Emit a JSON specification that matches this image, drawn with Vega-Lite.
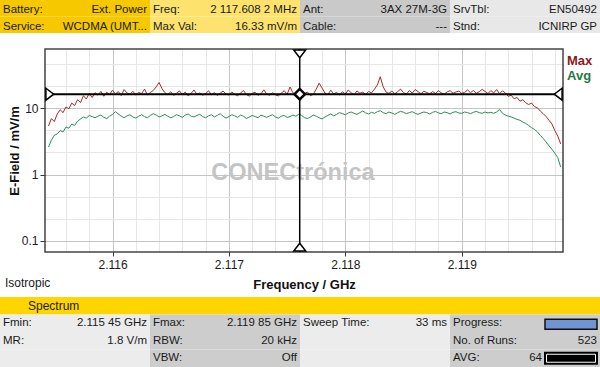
{
"$schema":"https://vega.github.io/schema/vega-lite/v6.json",
"background":"white","padding":0,"spacing":0,
"resolve":{"scale":{"color":"independent"},"legend":{"color":"independent"}},
"config":{"view":{"stroke":null},"font":"Liberation Sans"},
"datasets":{
"header":[
{"c":"c1","r":"r1","label":"Battery:","value":"Ext. Power"},
{"c":"c1","r":"r2","label":"Service:","value":"WCDMA (UMT..."},
{"c":"c2","r":"r1","label":"Freq:","value":"2 117.608 2 MHz"},
{"c":"c2","r":"r2","label":"Max Val:","value":"16.33 mV/m"},
{"c":"c3","r":"r1","label":"Ant:","value":"3AX 27M-3G"},
{"c":"c3","r":"r2","label":"Cable:","value":"---"},
{"c":"c4","r":"r1","label":"SrvTbl:","value":"EN50492"},
{"c":"c4","r":"r2","label":"Stnd:","value":"ICNIRP GP"}],
"footer":[
{"c":"c1","r":"spec","label":"Spectrum","value":""},
{"c":"c2","r":"spec","label":"","value":""},
{"c":"c3","r":"spec","label":"","value":""},
{"c":"c4","r":"spec","label":"","value":""},
{"c":"c1","r":"r1","label":"Fmin:","value":"2.115 45 GHz"},
{"c":"c2","r":"r1","label":"Fmax:","value":"2.119 85 GHz"},
{"c":"c3","r":"r1","label":"Sweep Time:","value":"33 ms"},
{"c":"c4","r":"r1","label":"Progress:","value":""},
{"c":"c1","r":"r2","label":"MR:","value":"1.8 V/m"},
{"c":"c2","r":"r2","label":"RBW:","value":"20 kHz"},
{"c":"c3","r":"r2","label":"","value":""},
{"c":"c4","r":"r2","label":"No. of Runs:","value":"523"},
{"c":"c1","r":"r3","label":"","value":""},
{"c":"c2","r":"r3","label":"VBW:","value":"Off"},
{"c":"c3","r":"r3","label":"","value":""},
{"c":"c4","r":"r3","label":"AVG:","value":""}],
"widgets":[{"kind":"progress","c":"c4","r":"r1","n":""},{"kind":"avg","c":"c4","r":"r3","n":"64"}],
"marker":[{"f":2.1176082,"v":16.33}],
"ends":[{"kind":"top","f":2.1176082,"v":78.7},{"kind":"bottom","f":2.1176082,"v":0.0675},{"kind":"left","f":2.11542,"v":16.33},{"kind":"right","f":2.11987,"v":16.33}],
"trace":[
{"f":2.11545,"max":5.4,"avg":2.6},{"f":2.115475,"max":7.0,"avg":3.3},{"f":2.1155,"max":6.3,"avg":3.9},{"f":2.115525,"max":8.2,"avg":4.1},
{"f":2.11555,"max":9.5,"avg":4.6},{"f":2.115575,"max":8.6,"avg":4.4},{"f":2.1156,"max":10.5,"avg":5.2},{"f":2.115625,"max":9.8,"avg":5.0},
{"f":2.11565,"max":12.0,"avg":5.8},{"f":2.115675,"max":11.0,"avg":5.5},{"f":2.1157,"max":13.5,"avg":6.4},{"f":2.115725,"max":12.2,"avg":6.9},
{"f":2.11575,"max":15.5,"avg":7.4},{"f":2.115775,"max":13.8,"avg":7.1},{"f":2.1158,"max":16.8,"avg":7.8},{"f":2.115825,"max":14.5,"avg":7.5},
{"f":2.11585,"max":17.2,"avg":7.2},{"f":2.115875,"max":15.8,"avg":7.6},{"f":2.1159,"max":18.0,"avg":7.9},{"f":2.115925,"max":15.2,"avg":7.3},
{"f":2.11595,"max":17.5,"avg":7.0},{"f":2.115975,"max":16.1,"avg":7.6},{"f":2.116,"max":18.8,"avg":8.1},{"f":2.116025,"max":16.4,"avg":8.9},
{"f":2.11605,"max":17.9,"avg":8.2},{"f":2.116075,"max":15.6,"avg":7.6},{"f":2.1161,"max":19.2,"avg":7.2},{"f":2.116125,"max":17.0,"avg":7.7},
{"f":2.11615,"max":16.2,"avg":8.0},{"f":2.116175,"max":18.1,"avg":7.4},{"f":2.1162,"max":15.9,"avg":7.1},{"f":2.116225,"max":17.4,"avg":7.6},
{"f":2.11625,"max":16.6,"avg":8.0},{"f":2.116275,"max":19.5,"avg":7.5},{"f":2.1163,"max":16.0,"avg":7.2},{"f":2.116325,"max":17.3,"avg":7.8},
{"f":2.11635,"max":18.6,"avg":8.3},{"f":2.116375,"max":21.0,"avg":7.9},{"f":2.1164,"max":24.6,"avg":7.4},{"f":2.116425,"max":19.8,"avg":7.7},
{"f":2.11645,"max":17.2,"avg":8.1},{"f":2.116475,"max":16.1,"avg":7.6},{"f":2.1165,"max":17.8,"avg":7.2},{"f":2.116525,"max":15.7,"avg":7.5},
{"f":2.11655,"max":16.9,"avg":8.0},{"f":2.116575,"max":18.3,"avg":7.7},{"f":2.1166,"max":16.2,"avg":7.3},{"f":2.116625,"max":17.6,"avg":7.9},
{"f":2.11665,"max":15.4,"avg":8.2},{"f":2.116675,"max":16.8,"avg":7.6},{"f":2.1167,"max":18.9,"avg":7.4},{"f":2.116725,"max":16.3,"avg":7.8},
{"f":2.11675,"max":17.1,"avg":8.1},{"f":2.116775,"max":15.8,"avg":7.5},{"f":2.1168,"max":16.7,"avg":7.2},{"f":2.116825,"max":18.4,"avg":7.7},
{"f":2.11685,"max":16.0,"avg":8.0},{"f":2.116875,"max":17.3,"avg":7.4},{"f":2.1169,"max":15.6,"avg":7.8},{"f":2.116925,"max":16.9,"avg":8.3},
{"f":2.11695,"max":18.2,"avg":7.6},{"f":2.116975,"max":16.4,"avg":7.1},{"f":2.117,"max":15.9,"avg":7.5},{"f":2.117025,"max":17.7,"avg":8.0},
{"f":2.11705,"max":16.2,"avg":7.7},{"f":2.117075,"max":15.5,"avg":7.3},{"f":2.1171,"max":17.0,"avg":7.9},{"f":2.117125,"max":18.6,"avg":7.6},
{"f":2.11715,"max":16.1,"avg":7.0},{"f":2.117175,"max":15.3,"avg":7.4},{"f":2.1172,"max":16.8,"avg":7.8},{"f":2.117225,"max":17.5,"avg":7.5},
{"f":2.11725,"max":15.7,"avg":7.2},{"f":2.117275,"max":16.6,"avg":7.9},{"f":2.1173,"max":19.0,"avg":7.6},{"f":2.117325,"max":16.3,"avg":7.3},
{"f":2.11735,"max":15.8,"avg":7.7},{"f":2.117375,"max":17.2,"avg":8.0},{"f":2.1174,"max":16.0,"avg":7.4},{"f":2.117425,"max":15.4,"avg":7.1},
{"f":2.11745,"max":16.9,"avg":7.6},{"f":2.117475,"max":18.5,"avg":7.8},{"f":2.1175,"max":16.2,"avg":7.3},{"f":2.117525,"max":21.0,"avg":7.5},
{"f":2.11755,"max":17.1,"avg":7.9},{"f":2.117575,"max":15.9,"avg":7.6},{"f":2.1176,"max":16.4,"avg":8.1},{"f":2.117625,"max":15.2,"avg":7.8},
{"f":2.11765,"max":16.8,"avg":7.2},{"f":2.117675,"max":17.6,"avg":7.0},{"f":2.1177,"max":15.5,"avg":7.4},{"f":2.117725,"max":16.3,"avg":7.9},
{"f":2.11775,"max":19.5,"avg":7.6},{"f":2.117775,"max":24.0,"avg":7.2},{"f":2.1178,"max":20.3,"avg":6.9},{"f":2.117825,"max":17.0,"avg":7.4},
{"f":2.11785,"max":16.1,"avg":7.8},{"f":2.117875,"max":18.8,"avg":8.2},{"f":2.1179,"max":16.5,"avg":7.7},{"f":2.117925,"max":17.4,"avg":8.1},
{"f":2.11795,"max":15.9,"avg":8.6},{"f":2.117975,"max":17.8,"avg":8.3},{"f":2.118,"max":16.4,"avg":8.0},{"f":2.118025,"max":18.9,"avg":8.5},
{"f":2.11805,"max":17.2,"avg":8.8},{"f":2.118075,"max":16.0,"avg":8.4},{"f":2.1181,"max":18.3,"avg":8.1},{"f":2.118125,"max":16.9,"avg":8.6},
{"f":2.11815,"max":17.5,"avg":9.1},{"f":2.118175,"max":16.2,"avg":8.5},{"f":2.1182,"max":18.0,"avg":8.2},{"f":2.118225,"max":17.1,"avg":8.7},
{"f":2.11825,"max":19.4,"avg":8.4},{"f":2.118275,"max":22.5,"avg":8.9},{"f":2.1183,"max":30.0,"avg":9.2},{"f":2.118325,"max":21.2,"avg":8.6},
{"f":2.11835,"max":17.6,"avg":8.3},{"f":2.118375,"max":16.8,"avg":8.8},{"f":2.1184,"max":18.2,"avg":8.5},{"f":2.118425,"max":16.5,"avg":8.1},
{"f":2.11845,"max":17.9,"avg":8.6},{"f":2.118475,"max":19.5,"avg":9.0},{"f":2.1185,"max":17.2,"avg":8.7},{"f":2.118525,"max":16.4,"avg":8.3},
{"f":2.11855,"max":18.6,"avg":8.6},{"f":2.118575,"max":17.0,"avg":8.9},{"f":2.1186,"max":19.2,"avg":8.4},{"f":2.118625,"max":17.8,"avg":8.1},
{"f":2.11865,"max":16.6,"avg":8.5},{"f":2.118675,"max":18.1,"avg":8.8},{"f":2.1187,"max":17.3,"avg":8.6},{"f":2.118725,"max":16.5,"avg":8.2},
{"f":2.11875,"max":17.9,"avg":8.7},{"f":2.118775,"max":16.8,"avg":9.0},{"f":2.1188,"max":18.4,"avg":8.5},{"f":2.118825,"max":17.1,"avg":8.3},
{"f":2.11885,"max":16.3,"avg":8.8},{"f":2.118875,"max":17.7,"avg":8.6},{"f":2.1189,"max":18.5,"avg":8.2},{"f":2.118925,"max":16.9,"avg":8.7},
{"f":2.11895,"max":17.6,"avg":8.9},{"f":2.118975,"max":18.3,"avg":8.5},{"f":2.119,"max":16.8,"avg":8.4},{"f":2.119025,"max":17.4,"avg":8.8},
{"f":2.11905,"max":19.0,"avg":8.6},{"f":2.119075,"max":17.2,"avg":8.3},{"f":2.1191,"max":18.6,"avg":8.7},{"f":2.119125,"max":16.9,"avg":9.0},
{"f":2.11915,"max":17.8,"avg":8.6},{"f":2.119175,"max":19.3,"avg":8.4},{"f":2.1192,"max":18.0,"avg":8.8},{"f":2.119225,"max":16.7,"avg":8.5},
{"f":2.11925,"max":18.5,"avg":8.7},{"f":2.119275,"max":17.1,"avg":8.4},{"f":2.1193,"max":19.2,"avg":8.8},{"f":2.119325,"max":16.6,"avg":9.6},
{"f":2.11935,"max":18.4,"avg":8.4},{"f":2.119375,"max":17.0,"avg":7.9},{"f":2.1194,"max":15.2,"avg":7.6},{"f":2.119425,"max":15.8,"avg":7.4},
{"f":2.11945,"max":13.9,"avg":7.1},{"f":2.119475,"max":14.6,"avg":6.8},{"f":2.1195,"max":12.8,"avg":6.6},{"f":2.119525,"max":13.5,"avg":6.2},
{"f":2.11955,"max":12.1,"avg":5.9},{"f":2.119575,"max":11.4,"avg":5.5},{"f":2.1196,"max":12.0,"avg":5.1},{"f":2.119625,"max":10.6,"avg":4.8},
{"f":2.11965,"max":10.2,"avg":4.4},{"f":2.119675,"max":9.1,"avg":3.9},{"f":2.1197,"max":8.3,"avg":3.5},{"f":2.119725,"max":7.5,"avg":3.1},
{"f":2.11975,"max":6.6,"avg":2.7},{"f":2.119775,"max":5.8,"avg":2.4},{"f":2.1198,"max":4.6,"avg":2.1},{"f":2.119825,"max":3.8,"avg":1.8},
{"f":2.11985,"max":2.9,"avg":1.3}]
},
"vconcat":[
{
"width":600,"height":46,
"data":{"name":"header"},
"layer":[
{"mark":{"type":"rect"},
 "encoding":{
  "x":{"field":"c","type":"nominal","axis":null,"scale":{"type":"band","domain":["c1","c2","c3","c4"],"paddingInner":0,"paddingOuter":0}},
  "y":{"field":"r","type":"nominal","axis":null,"scale":{"type":"band","domain":["r1","r2"],"paddingInner":0,"paddingOuter":0.394,"align":0}},
  "color":{"field":"c","type":"nominal","legend":null,"scale":{"domain":["c1","c2","c3","c4"],"range":["#F5C800","#FDE36E","#C9C9C9","#E8E8E8"]}}}},
{"mark":{"type":"text","align":"left","baseline":"middle","dx":3,"dy":2,"fontSize":11.5,"color":"#1a1a1a"},
 "encoding":{
  "x":{"field":"c","type":"nominal","bandPosition":0,"axis":null,"scale":{"type":"band","domain":["c1","c2","c3","c4"],"paddingInner":0,"paddingOuter":0}},
  "y":{"field":"r","type":"nominal","axis":null,"scale":{"type":"band","domain":["r1","r2"],"paddingInner":0,"paddingOuter":0.394,"align":0}},
  "text":{"field":"label"}}},
{"mark":{"type":"text","align":"right","baseline":"middle","dx":-3,"dy":2,"fontSize":11.5,"color":"#1a1a1a"},
 "encoding":{
  "x":{"field":"c","type":"nominal","bandPosition":1,"axis":null,"scale":{"type":"band","domain":["c1","c2","c3","c4"],"paddingInner":0,"paddingOuter":0}},
  "y":{"field":"r","type":"nominal","axis":null,"scale":{"type":"band","domain":["r1","r2"],"paddingInner":0,"paddingOuter":0.394,"align":0}},
  "text":{"field":"value"}}}
]
},
{
"width":563,"height":203,
"resolve":{"axis":{"x":"independent"}},
"title":{"text":"Isotropic","orient":"bottom","anchor":"start","frame":"bounds","offset":-13,"dx":5,"fontSize":12,"fontWeight":"normal","color":"#1a1a1a"},
"layer":[
{"data":{"name":"trace"},
 "mark":{"type":"line","strokeWidth":1,"clip":true},
 "encoding":{
  "x":{"field":"f","type":"quantitative","scale":{"domain":[2.11542,2.11987],"range":[45,563],"nice":false,"zero":false},
   "axis":{"orient":"bottom","grid":true,"values":[2.116,2.117,2.118,2.119],"format":".3f",
    "gridColor":"#c4c4c4","tickSize":4,"tickColor":"#333333","labelPadding":3,"labelFontSize":12,"labelColor":"#1a1a1a","labelOverlap":false,"labelFlush":false,
    "domain":false,"minExtent":22,"maxExtent":22,
    "title":"Frequency / GHz","titleFontSize":13,"titleFontWeight":"bold","titlePadding":4,"titleColor":"#111111"}},
  "y":{"field":"max","type":"quantitative","scale":{"type":"log","domain":[0.0675,78.7],"nice":false},
   "axis":{"orient":"left","grid":true,"offset":-45,
    "values":[0.1,0.2154,0.4642,1,2.154,4.642,10,21.54,46.42],
    "labelExpr":"datum.value==0.1 ? '0.1' : datum.value==1 ? '1' : datum.value==10 ? '10' : ''",
    "gridColor":{"condition":{"test":"datum.value==0.1||datum.value==1||datum.value==10","value":"#c4c4c4"},"value":"#e6e6e6"},
    "tickOpacity":{"condition":{"test":"datum.value==0.1||datum.value==1||datum.value==10","value":1},"value":0},
    "tickSize":5,"tickColor":"#333333","labelPadding":2,"labelFontSize":12,"labelColor":"#1a1a1a","labelOverlap":"greedy","labelFlush":false,
    "domain":false,"minExtent":45,"maxExtent":45,
    "title":"E-Field / mV/m","titleFontSize":13,"titleFontWeight":"bold","titleColor":"#111111",
    "titleX":-24,"titleY":101.5,"titleAngle":-90,"titleBaseline":"bottom","titleAlign":"center"}},
  "color":{"datum":"Max","type":"nominal","scale":{"domain":["Max","Avg"],"range":["#a52a2a","#2e8b57"]},
   "legend":{"title":null,"orient":"right","offset":-14,"padding":5,"symbolSize":1,"symbolStrokeWidth":0,"symbolOpacity":0,"labelOffset":0,
    "labelFontSize":13,"labelFontWeight":"bold","rowPadding":1,"labelLimit":60,
    "encode":{"labels":{"update":{"fill":{"signal":"datum.value === 'Max' ? '#8b1a1a' : '#1f7a45'"}}}}}}}},
{"data":{"name":"trace"},
 "mark":{"type":"line","strokeWidth":1,"clip":true},
 "encoding":{
  "x":{"field":"f","type":"quantitative","scale":{"domain":[2.11542,2.11987],"range":[45,563],"nice":false,"zero":false},
   "axis":{"orient":"bottom","grid":true,"gridColor":"#e6e6e6","labels":false,"ticks":false,"domain":false,"title":null,"minExtent":0,"maxExtent":0,
    "values":[2.1156,2.1158,2.1162,2.1164,2.1166,2.1168,2.1172,2.1174,2.1176,2.1178,2.1182,2.1184,2.1186,2.1188,2.1192,2.1194,2.1196,2.1198]}},
  "y":{"field":"avg","type":"quantitative","scale":{"type":"log","domain":[0.0675,78.7],"nice":false}},
  "color":{"datum":"Avg","type":"nominal","scale":{"domain":["Max","Avg"],"range":["#a52a2a","#2e8b57"]}}}},
{"data":{"values":[{}]},
 "mark":{"type":"text","text":"CONECtrónica","fontSize":23.5,"fontWeight":"bold","color":"#c4c4c4","align":"center","baseline":"middle"},
 "encoding":{
  "x":{"datum":2.11755,"type":"quantitative","scale":{"domain":[2.11542,2.11987],"range":[45,563],"nice":false,"zero":false},"axis":null},
  "y":{"datum":1.05,"type":"quantitative","scale":{"type":"log","domain":[0.0675,78.7],"nice":false}}}},
{"data":{"values":[{}]},
 "mark":{"type":"rect","fillOpacity":0,"stroke":"#444444","strokeWidth":1.5},
 "encoding":{
  "x":{"datum":2.11542,"type":"quantitative","scale":{"domain":[2.11542,2.11987],"range":[45,563],"nice":false,"zero":false},"axis":null},
  "x2":{"datum":2.11987},
  "y":{"datum":78.7,"type":"quantitative","scale":{"type":"log","domain":[0.0675,78.7],"nice":false}},
  "y2":{"datum":0.0675}}},
{"data":{"name":"marker"},
 "mark":{"type":"rule","color":"black","strokeWidth":1.5},
 "encoding":{"x":{"field":"f","type":"quantitative","scale":{"domain":[2.11542,2.11987],"range":[45,563],"nice":false,"zero":false},"axis":null}}},
{"data":{"name":"marker"},
 "mark":{"type":"rule","color":"black","strokeWidth":2},
 "encoding":{
  "x":{"datum":2.11542,"type":"quantitative","scale":{"domain":[2.11542,2.11987],"range":[45,563],"nice":false,"zero":false},"axis":null},
  "x2":{"datum":2.11987},
  "y":{"field":"v","type":"quantitative","scale":{"type":"log","domain":[0.0675,78.7],"nice":false}}}},
{"data":{"name":"ends"},
 "mark":{"type":"point","filled":true,"fill":"white","stroke":"black","strokeWidth":1.5,"size":144,"opacity":1},
 "encoding":{
  "x":{"field":"f","type":"quantitative","scale":{"domain":[2.11542,2.11987],"range":[45,563],"nice":false,"zero":false},"axis":null},
  "y":{"field":"v","type":"quantitative","scale":{"type":"log","domain":[0.0675,78.7],"nice":false}},
  "shape":{"field":"kind","type":"nominal","legend":null,"scale":{"domain":["top","bottom","left","right"],
   "range":["M-1,0.15L1,0.15L0,1.45Z","M-1,-0.15L1,-0.15L0,-1.45Z","M0.15,-1L0.15,1L1.45,0Z","M-0.15,-1L-0.15,1L-1.45,0Z"]}}}},
{"data":{"name":"marker"},
 "mark":{"type":"point","shape":"diamond","filled":true,"fill":"white","stroke":"black","strokeWidth":2.5,"size":110,"opacity":1},
 "encoding":{
  "x":{"field":"f","type":"quantitative","scale":{"domain":[2.11542,2.11987],"range":[45,563],"nice":false,"zero":false},"axis":null},
  "y":{"field":"v","type":"quantitative","scale":{"type":"log","domain":[0.0675,78.7],"nice":false}}}}
]
},
{
"width":600,"height":76,
"data":{"name":"footer"},
"layer":[
{"mark":{"type":"rect"},
 "encoding":{
  "x":{"field":"c","type":"nominal","axis":null,"scale":{"type":"band","domain":["c1","c2","c3","c4"],"paddingInner":0,"paddingOuter":0}},
  "y":{"field":"r","type":"nominal","axis":null,"scale":{"type":"band","domain":["spec","r1","r2","r3"],"paddingInner":0,"paddingOuter":0.171,"align":1}},
  "color":{"condition":{"test":"datum.r === 'spec'","value":"#FFD500"},"field":"c","type":"nominal","legend":null,
   "scale":{"domain":["c1","c2","c3","c4"],"range":["#ECECEC","#CDCDCD","#ECECEC","#CDCDCD"]}}}},
{"transform":[{"filter":"datum.r === 'spec'"}],
 "mark":{"type":"text","align":"left","baseline":"middle","dx":28,"dy":0,"fontSize":12,"color":"#1a1a1a"},
 "encoding":{
  "x":{"field":"c","type":"nominal","bandPosition":0,"axis":null,"scale":{"type":"band","domain":["c1","c2","c3","c4"],"paddingInner":0,"paddingOuter":0}},
  "y":{"field":"r","type":"nominal","axis":null,"scale":{"type":"band","domain":["spec","r1","r2","r3"],"paddingInner":0,"paddingOuter":0.171,"align":1}},
  "text":{"field":"label"}}},
{"transform":[{"filter":"datum.r !== 'spec'"}],
 "mark":{"type":"text","align":"left","baseline":"middle","dx":3,"dy":0,"fontSize":11.5,"color":"#1a1a1a"},
 "encoding":{
  "x":{"field":"c","type":"nominal","bandPosition":0,"axis":null,"scale":{"type":"band","domain":["c1","c2","c3","c4"],"paddingInner":0,"paddingOuter":0}},
  "y":{"field":"r","type":"nominal","axis":null,"scale":{"type":"band","domain":["spec","r1","r2","r3"],"paddingInner":0,"paddingOuter":0.171,"align":1}},
  "text":{"field":"label"}}},
{"transform":[{"filter":"datum.r !== 'spec'"}],
 "mark":{"type":"text","align":"right","baseline":"middle","dx":-3,"dy":0,"fontSize":11.5,"color":"#1a1a1a"},
 "encoding":{
  "x":{"field":"c","type":"nominal","bandPosition":1,"axis":null,"scale":{"type":"band","domain":["c1","c2","c3","c4"],"paddingInner":0,"paddingOuter":0}},
  "y":{"field":"r","type":"nominal","axis":null,"scale":{"type":"band","domain":["spec","r1","r2","r3"],"paddingInner":0,"paddingOuter":0.171,"align":1}},
  "text":{"field":"value"}}},
{"data":{"name":"widgets"},"transform":[{"filter":"datum.kind === 'progress'"}],
 "mark":{"type":"rect","width":52,"height":10,"xOffset":46,"yOffset":1,"fill":"#7095D2","stroke":"#111111","strokeWidth":1.5},
 "encoding":{
  "x":{"field":"c","type":"nominal","axis":null,"scale":{"type":"band","domain":["c1","c2","c3","c4"],"paddingInner":0,"paddingOuter":0}},
  "y":{"field":"r","type":"nominal","axis":null,"scale":{"type":"band","domain":["spec","r1","r2","r3"],"paddingInner":0,"paddingOuter":0.171,"align":1}}}},
{"data":{"name":"widgets"},"transform":[{"filter":"datum.kind === 'avg'"}],
 "mark":{"type":"rect","width":54,"height":13,"xOffset":46,"fill":"#000000"},
 "encoding":{
  "x":{"field":"c","type":"nominal","axis":null,"scale":{"type":"band","domain":["c1","c2","c3","c4"],"paddingInner":0,"paddingOuter":0}},
  "y":{"field":"r","type":"nominal","axis":null,"scale":{"type":"band","domain":["spec","r1","r2","r3"],"paddingInner":0,"paddingOuter":0.171,"align":1}}}},
{"data":{"name":"widgets"},"transform":[{"filter":"datum.kind === 'avg'"}],
 "mark":{"type":"rect","width":49,"height":8,"xOffset":46,"fill":"#000000","stroke":"white","strokeWidth":1},
 "encoding":{
  "x":{"field":"c","type":"nominal","axis":null,"scale":{"type":"band","domain":["c1","c2","c3","c4"],"paddingInner":0,"paddingOuter":0}},
  "y":{"field":"r","type":"nominal","axis":null,"scale":{"type":"band","domain":["spec","r1","r2","r3"],"paddingInner":0,"paddingOuter":0.171,"align":1}}}},
{"data":{"name":"widgets"},"transform":[{"filter":"datum.kind === 'avg'"}],
 "mark":{"type":"text","align":"right","baseline":"middle","dx":-58,"dy":0,"fontSize":11.5,"color":"#1a1a1a"},
 "encoding":{
  "x":{"field":"c","type":"nominal","bandPosition":1,"axis":null,"scale":{"type":"band","domain":["c1","c2","c3","c4"],"paddingInner":0,"paddingOuter":0}},
  "y":{"field":"r","type":"nominal","axis":null,"scale":{"type":"band","domain":["spec","r1","r2","r3"],"paddingInner":0,"paddingOuter":0.171,"align":1}},
  "text":{"field":"n"}}}
]
}
]
}
